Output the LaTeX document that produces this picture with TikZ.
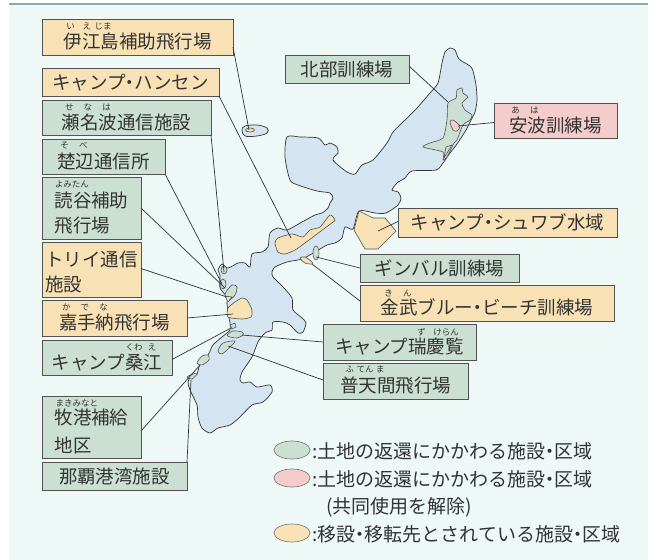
\documentclass[tikz,border=0pt]{standalone}
\usepackage{fontspec}
\usepackage{xcolor}
\setmainfont{Noto Sans CJK JP}
\definecolor{panelbg}{HTML}{EEF8F7}
\definecolor{panelrule}{HTML}{8AAABB}
\definecolor{landblue}{HTML}{D5E4F1}
\definecolor{areagreen}{HTML}{CBE0D2}
\definecolor{areapink}{HTML}{F4CCCC}
\definecolor{areaorange}{HTML}{F8E2B5}
\definecolor{inkgrey}{HTML}{333333}
\newcommand{\nakaten}{\hspace{-.25em}・\hspace{-.25em}}
\tikzset{
	labelbox/.style={draw=inkgrey!85,line width=.8pt,anchor=north west,inner sep=0pt,outer sep=0pt,
		text=inkgrey,font=\fontsize{18.5}{25}\selectfont,align=left},
	greenbox/.style={labelbox,fill=areagreen},
	pinkbox/.style={labelbox,fill=areapink},
	orangebox/.style={labelbox,fill=areaorange},
	rubyline/.style={text height=25pt,text depth=2pt},
	flatline/.style={text height=18pt,text depth=4pt},
	furi/.style={text=inkgrey,font=\fontsize{8.5}{10}\selectfont,inner sep=0pt},
	land/.style={draw=inkgrey,line width=.7pt,fill=landblue},
	parcel/.style={draw=inkgrey!85,line width=.6pt},
	leader/.style={draw=inkgrey,line width=.7pt},
	legendmark/.style={draw=gray,line width=.7pt,ellipse,minimum width=36pt,minimum height=18pt,inner sep=0pt},
	legendtext/.style={text=inkgrey,font=\fontsize{19}{22}\selectfont,anchor=west,inner sep=0pt},
}
\usetikzlibrary{shapes.geometric}
\begin{document}
\begin{tikzpicture}[x=1pt,y=-1pt]
	\useasboundingbox (0,0) rectangle (657,560);
	\fill[panelbg] (9,4) rectangle (648,560);
	\draw[panelrule,line width=1.3pt] (9,4)--(648,4);

	% main island and Ie
	\draw[land] plot[smooth cycle,tension=.45] coordinates {
		(450,48) (455,50) (459,59) (470,66) (473,71) (476,85) (477,100) (475,112) (470,122) (466,130)
		(457,144) (450,153) (443,163) (436,170) (412,171) (405,178) (397,183) (392,190) (398,192)
		(401,198) (398,205) (386,213) (375,213) (359,211) (353,229) (345,227) (342,238) (335,243)
		(327,245) (315,252) (302,259) (287,262) (275,267) (272,272) (273,277) (283,287) (292,298)
		(293,310) (302,318) (306,323) (303,332) (298,333) (290,325) (283,322) (273,322) (272,330)
		(265,333) (258,342) (252,357) (242,372) (240,380) (243,383) (250,382) (257,387) (270,385)
		(272,392) (263,402) (252,405) (240,417) (230,425) (218,428) (210,433) (202,428) (198,417)
		(197,405) (190,390) (188,382) (192,375) (197,374) (200,364) (208,355) (213,345) (222,337)
		(230,330) (230,323) (228,313) (227,303) (227,297) (220,288) (220,275) (218,270) (222,264)
		(228,268) (238,263) (245,263) (250,267) (252,254) (262,252) (268,247) (270,233) (278,228)
		(287,230) (302,222) (315,215) (322,213) (328,208) (330,203) (333,198) (330,193) (317,191)
		(298,185) (290,180) (285,157) (287,137) (300,137) (318,138) (325,145) (330,143) (337,147)
		(338,153) (333,160) (347,172) (355,174) (362,165) (373,160) (387,143) (393,132) (405,120)
		(417,108) (430,93) (438,83) (442,63) (445,52)};
	\draw[land] plot[smooth cycle,tension=.6] coordinates {
		(242,130) (245,126) (257,125) (267,128) (267,133) (257,136) (245,136)};

	% facilities
	\draw[parcel,fill=areagreen] plot[smooth cycle,tension=.4] coordinates {
		(448,103) (456,98) (457,90) (462,88) (463,93) (468,97) (462,103) (465,110) (472,115) (470,120)
		(463,125) (457,140) (454,143) (447,157) (443,160) (443,152) (423,147) (430,143) (443,138) (447,120)};
	\draw[parcel,fill=areagreen] (444,158)--(446,147)--(452,145)--cycle;
	\draw[parcel,fill=areapink] plot[smooth cycle,tension=.5] coordinates {
		(450,122) (453,120) (460,126) (457,131) (453,130)};
	\draw[parcel,fill=areaorange] (359,211)--(373,218)--(385,218)--(396,231)--(378,249)--(365,249)--(354,230)--cycle;
	\draw[parcel,fill=areaorange] plot[smooth cycle,tension=.4] coordinates {
		(275,243) (278,238) (292,234) (303,237) (310,230) (320,227) (330,215) (335,220) (333,222) (325,228)
		(313,237) (305,243) (295,250) (285,254) (278,252)};
	\draw[parcel,fill=areaorange] (250,130) ellipse (4.5 and 2);
	\draw[parcel,fill=areagreen] (316,253) ellipse (3 and 7);
	\draw[parcel,fill=areaorange] plot[smooth cycle,tension=.5] coordinates {(300,258) (305,257) (312,262) (312,264) (305,263)};
	\draw[parcel,fill=areagreen] (224,270) ellipse (3 and 4);
	\draw[parcel,fill=areagreen] (223,284) ellipse (3 and 5);
	\draw[parcel,fill=areagreen] plot[smooth cycle,tension=.5] coordinates {(225,294) (232,285) (237,287) (235,295) (229,300)};
	\draw[parcel,fill=areaorange] (225,296)--(232,297)--(228,302)--cycle;
	\draw[parcel,fill=areaorange] plot[smooth cycle,tension=.4] coordinates {
		(228,308) (235,302) (242,298) (247,300) (252,310) (251,317) (242,319) (228,317)};
	\draw[parcel,fill=areagreen] (230,325)--(235,323)--(236,327)--(232,329)--cycle;
	\draw[parcel,fill=areagreen] plot[smooth cycle,tension=.5] coordinates {(227,335) (233,331) (242,332) (243,335) (237,338) (230,337)};
	\draw[parcel,fill=areagreen] plot[smooth cycle,tension=.5] coordinates {(218,351) (223,343) (235,341) (230,347) (222,354)};
	\draw[parcel,fill=areagreen] plot[smooth cycle,tension=.5] coordinates {(197,363) (202,356) (208,355) (209,360) (202,365)};
	\draw[parcel,fill=areagreen] plot[smooth cycle,tension=.5] coordinates {(187,377) (193,374) (197,374) (192,379)};

	% left column of labels
	\node[orangebox,rubyline,minimum width=191pt,minimum height=36pt] (iejima) at (42,19) {伊江島補助飛行場};
	\node[orangebox,flatline,minimum width=177pt,minimum height=28pt] (hansen) at (42,68) {キャンプ\nakaten ハンセン};
	\node[greenbox,rubyline,minimum width=169pt,minimum height=35pt] (senaha) at (42,100) {瀬名波通信施設};
	\node[greenbox,rubyline,minimum width=123pt,minimum height=35pt] (sobe) at (42,139) {楚辺通信所};
	\node[greenbox,minimum width=99pt,minimum height=62pt] (yomitan) at (42,177) {\rule{0pt}{26pt}読谷補助\\飛行場};
	\node[orangebox,minimum width=99pt,minimum height=55pt] (torii) at (42,242) {\rule{0pt}{20pt}トリイ通信\\施設};
	\node[orangebox,rubyline,minimum width=145pt,minimum height=36pt] (kadena) at (42,300) {嘉手納飛行場};
	\node[greenbox,rubyline,minimum width=130pt,minimum height=35pt] (kuwae) at (42,340) {キャンプ桑江};
	\node[greenbox,minimum width=99pt,minimum height=62pt] (makiminato) at (42,396) {\rule{0pt}{24pt}牧港補給\\[3pt]地区};
	\node[greenbox,flatline,minimum width=145pt,minimum height=28pt] (naha) at (42,462) {那覇港湾施設};
	% right side labels
	\node[greenbox,flatline,minimum width=124pt,minimum height=28pt] (hokubu) at (285,55) {北部訓練場};
	\node[pinkbox,rubyline,minimum width=123pt,minimum height=35pt] (aha) at (494,103) {安波訓練場};
	\node[orangebox,flatline,minimum width=219pt,minimum height=29pt] (schwab) at (398,208) {キャンプ\nakaten シュワブ水域};
	\node[greenbox,flatline,minimum width=159pt,minimum height=28pt] (ginbaru) at (360,254) {ギンバル訓練場};
	\node[orangebox,rubyline,minimum width=254pt,minimum height=36pt] (kin) at (360,285) {金武ブルー\nakaten ビーチ訓練場};
	\node[greenbox,rubyline,minimum width=153pt,minimum height=36pt] (zukeran) at (323,324) {キャンプ瑞慶覧};
	\node[greenbox,rubyline,minimum width=145pt,minimum height=36pt] (futenma) at (323,363) {普天間飛行場};

	% furigana
	\node[furi] at (89,26) {い\hspace{.9em}え\hspace{.4em}じま};
	\node[furi] at (88,107) {せ\hspace{1.2em}な\hspace{1.2em}は};
	\node[furi] at (74,145) {そ\hspace{1.2em}べ};
	\node[furi] at (72,184) {よみたん};
	\node[furi] at (85,307) {か\hspace{1.2em}で\hspace{1.2em}な};
	\node[furi] at (141,347) {くわ\hspace{.6em}え};
	\node[furi] at (77,403) {まきみなと};
	\node[furi] at (525,110) {あ\hspace{1.2em}は};
	\node[furi] at (398,293) {き\hspace{1.2em}ん};
	\node[furi] at (438,332) {ず\hspace{.9em}けらん};
	\node[furi] at (365,369) {ふ\hspace{.3em}てん\hspace{.3em}ま};

	% leaders
	\coordinate (iejimaend) at (249,130);
	\coordinate (hansenend) at (291,238);
	\coordinate (senahaend) at (224,272);
	\coordinate (sobeend) at (222,284);
	\coordinate (yomitanend) at (225,288);
	\coordinate (toriiend) at (227,297);
	\coordinate (kadenaend) at (233,314);
	\coordinate (kuwaeend) at (231,328);
	\coordinate (makiminatoend) at (200,365);
	\coordinate (nahaend) at (191,380);
	\coordinate (hokubuend) at (448,102);
	\coordinate (ahaend) at (458,126);
	\coordinate (schwabend) at (378,231);
	\coordinate (ginbaruend) at (316,257);
	\coordinate (kinend) at (312,264);
	\coordinate (zukeranend) at (242,335);
	\coordinate (futenmaend) at (228,346);
	\draw[leader] ([yshift=-10pt]iejima.east)--(iejimaend);
	\draw[leader] (hansen.south east)--(hansenend);
	\draw[leader] (senaha.south east)--(senahaend);
	\draw[leader] (sobe.south east)--(sobeend);
	\draw[leader] (yomitan.east)--(yomitanend);
	\draw[leader] ([yshift=1pt]torii.east)--(toriiend);
	\draw[leader] (kadena.east)--(kadenaend);
	\draw[leader] ([yshift=-2pt]kuwae.east)--(kuwaeend);
	\draw[leader] ([yshift=-4pt]makiminato.east)--(makiminatoend);
	\draw[leader] (naha.north east)--(nahaend);
	\draw[leader] ([yshift=3pt]hokubu.east)--(hokubuend);
	\draw[leader] ([yshift=-2pt]aha.west)--(ahaend);
	\draw[leader] ([yshift=1pt]schwab.west)--(schwabend);
	\draw[leader] (ginbaru.west)--(ginbaruend);
	\draw[leader] ([yshift=2pt]kin.west)--(kinend);
	\draw[leader] (zukeran.west)--(zukeranend);
	\draw[leader] ([yshift=1pt]futenma.west)--(futenmaend);

	% legend
	\node[legendmark,fill=areagreen] (markreturn) at (292,450) {};
	\node[legendmark,fill=areapink] (markjoint) at (292,478) {};
	\node[legendmark,fill=areaorange] (markmove) at (292,533) {};
	\node[legendtext] (textreturn) at (312,451) {:土地の返還にかかわる施設\nakaten 区域};
	\node[legendtext] (textjoint) at (312,479) {:土地の返還にかかわる施設\nakaten 区域};
	\node[legendtext] (textnote) at (326,507) {(共同使用を解除)};
	\node[legendtext] (textmove) at (312,534) {:移設\nakaten 移転先とされている施設\nakaten 区域};
\end{tikzpicture}
\end{document}
